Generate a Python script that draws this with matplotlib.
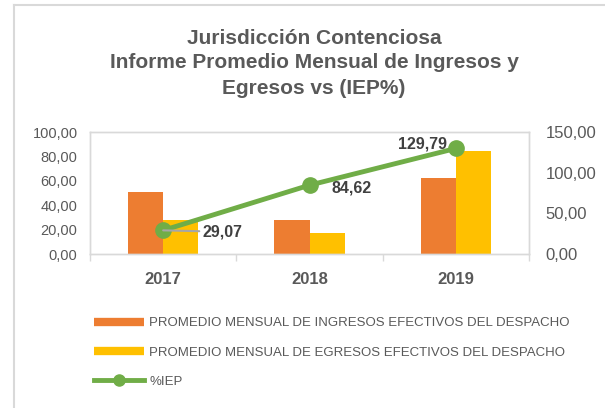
import matplotlib
matplotlib.use("Agg")
import matplotlib.pyplot as plt
from matplotlib.lines import Line2D
import numpy as np

years = ["2017", "2018", "2019"]
ingresos = [51.0, 28.0, 62.0]
egresos = [28.0, 17.3, 84.7]
iep = [29.07, 84.62, 129.79]
iep_labels = ["29,07", "84,62", "129,79"]
left_ticks = [0, 20, 40, 60, 80, 100]
right_ticks = [0, 50, 100, 150]

ORANGE = "#ED7D31"
YELLOW = "#FFC000"
GREEN = "#70AD47"
GRAY_TXT = "#595959"
DARK_TXT = "#404040"

plt.rcParams['font.family'] = ['Liberation Sans', 'DejaVu Sans']

fig = plt.figure(figsize=(6.05, 4.08), dpi=100)
ax = fig.add_axes([90/605, 1-254/408, (529-90)/605, (254-132)/408])
ax2 = ax.twinx()

x = np.arange(len(years))
bw = 0.24
ax.bar(x - bw/2, ingresos, width=bw, color=ORANGE, zorder=2)
ax.bar(x + bw/2, egresos, width=bw, color=YELLOW, zorder=2)
ax.set_xlim(-0.5, 2.5)
ax.set_ylim(0, 100)
ax.set_yticks(left_ticks)
ax.set_yticklabels([f"{v:.2f}".replace(".", ",") for v in left_ticks])
ax.set_xticks(x)
ax.set_xticklabels(years, fontweight="bold", fontsize=12, color=GRAY_TXT)
ax.set_xticks([-0.5, 0.5, 1.5, 2.5], minor=True)
ax.tick_params(axis="x", which="major", length=0, pad=13)
ax.tick_params(axis="x", which="minor", length=5, color="#D9D9D9", width=1)
ax.tick_params(axis="y", length=0, labelsize=10.5, labelcolor=GRAY_TXT, pad=9)

ax2.plot(x, iep, color=GREEN, lw=3.5, marker="o", markersize=11, zorder=3)
ax2.set_ylim(0, 150)
ax2.set_yticks(right_ticks)
ax2.set_yticklabels([f"{v:.2f}".replace(".", ",") for v in right_ticks])
ax2.tick_params(axis="y", length=0, labelsize=12, labelcolor=GRAY_TXT, pad=12)

# data labels
ax2.annotate(iep_labels[0], xy=(x[0], iep[0]), xytext=(28, -1), textcoords="offset points",
             ha="left", va="center", fontsize=11.5, fontweight="bold", color=DARK_TXT,
             arrowprops=dict(arrowstyle="-", color="#A6A6A6", lw=1.5, shrinkA=0, shrinkB=0), zorder=4)
ax2.annotate(iep_labels[1], xy=(x[1], iep[1]), xytext=(16, -2), textcoords="offset points",
             ha="left", va="center", fontsize=11.5, fontweight="bold", color=DARK_TXT)
ax2.annotate(iep_labels[2], xy=(x[2], iep[2]), xytext=(-6, 3), textcoords="offset points",
             ha="right", va="center", fontsize=11.5, fontweight="bold", color=DARK_TXT)

for a in (ax, ax2):
    for s in a.spines.values():
        s.set_color("#D9D9D9")
        s.set_linewidth(1)

# title
for yy, txt in [(38, "Jurisdicción Contenciosa"),
                (63, "Informe Promedio Mensual de Ingresos y"),
                (88, "Egresos vs (IEP%)")]:
    fig.text(314/605, 1-yy/408, txt, ha="center", va="center",
             fontsize=15, fontweight="bold", color=GRAY_TXT)

# legend
handles = [Line2D([0], [0], color=ORANGE, lw=6, solid_capstyle="butt"),
           Line2D([0], [0], color=YELLOW, lw=6, solid_capstyle="butt"),
           Line2D([0], [0], color=GREEN, lw=3.5, marker="o", markersize=8)]
labels = ["PROMEDIO MENSUAL DE INGRESOS EFECTIVOS DEL DESPACHO",
          "PROMEDIO MENSUAL DE EGRESOS EFECTIVOS DEL DESPACHO",
          "%IEP"]
leg = fig.legend(handles, labels, loc="upper left", bbox_to_anchor=(94/605, 1-317/408),
                 frameon=False, fontsize=9.5, handlelength=3.8, handletextpad=0.4,
                 labelspacing=1.3, borderpad=0, borderaxespad=0)
for t in leg.get_texts():
    t.set_color(GRAY_TXT)

# outer chart border
fig.add_artist(Line2D([13.5/605, 13.5/605], [0, 1-4.5/408], transform=fig.transFigure, color="#D9D9D9", lw=1.5))
fig.add_artist(Line2D([13.5/605, 1], [1-4.5/408, 1-4.5/408], transform=fig.transFigure, color="#D9D9D9", lw=1.5))

fig.savefig("out.png", dpi=100)
